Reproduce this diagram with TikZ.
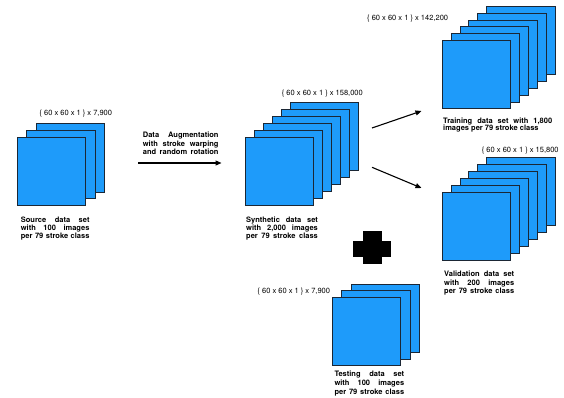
\documentclass[tikz,border=0pt]{standalone}
\usepackage{fontspec}
\setmainfont{TeX Gyre Heros}
\usetikzlibrary{arrows.meta}
\definecolor{sheetblue}{HTML}{1E9BFA}
\definecolor{rim}{HTML}{1B2735}

\tikzset{
  sheet/.style={draw=rim, fill=sheetblue, line width=0.9pt, minimum size=68.3pt,
    inner sep=0pt, outer sep=0pt},
  % multi-line captions are placed by the baseline of their last line
  caption/.style={inner sep=0pt, anchor=base west, align=left,
    font=\fontsize{7.5}{7.9}\selectfont\bfseries},
  dimlabel/.style={inner sep=0pt, anchor=base west, font=\fontsize{7.5}{8}\selectfont},
  flow/.style={line width=1.1pt, -{Triangle[length=6pt,width=5pt]}},
}

% a stack of image sheets: name, front centre x, y, count, step right, step up
\newcommand\sheetstack[6]{%
  \foreach \k in {#4,...,1}{%
    \node[sheet] (#1-\k) at ({#2+(\k-1)*#5},{#3-(\k-1)*#6}) {};
  }%
}
\newcommand\jline[2]{\makebox[#1][s]{#2}}

\begin{document}
\begin{tikzpicture}[x=1pt,y=-1pt]
\useasboundingbox (0,0) rectangle (564,398);

% source set
\sheetstack{src}{51.4}{171.4}{3}{9.5}{6.7}
\node[dimlabel] (src-lab) at (39.3,116) {\{ 60 x 60 x 1 \} x 7,900};
\node[caption] (src-txt) at (20.7,238)
  {\jline{68.6pt}{Source data set}\\\jline{68.6pt}{with 100 images}\\\jline{68.6pt}{per 79 stroke class}};

% augmentation step
\node[caption, font=\fontsize{7.5}{8.6}\selectfont\bfseries] (aug-txt) at (142.7,155)
  {\jline{75.6pt}{Data Augmentation}\\\jline{75.6pt}{with stroke warping}\\\jline{75.6pt}{and random rotation}};
\coordinate (aug-s) at (138,163);
\coordinate (aug-e) at (221.5,163);
\draw[flow] (aug-s) -- (aug-e);

% synthetic set
\sheetstack{syn}{279.6}{171.4}{6}{8.9}{7}
\node[dimlabel] (syn-lab) at (281.7,95.4) {\{ 60 x 60 x 1 \} x 158,000};
\node[caption] (syn-txt) at (246,238)
  {\jline{71.7pt}{Synthetic data set}\\\jline{71.7pt}{with 2,000 images}\\\jline{71.7pt}{per 79 stroke class}};

% split into training and validation
\coordinate (tr-s) at (372,128);
\coordinate (tr-e) at (421.5,111);
\draw[flow] (tr-s) -- (tr-e);
\coordinate (va-s) at (372,167.3);
\coordinate (va-e) at (421.5,188);
\draw[flow] (va-s) -- (va-e);

% training set
\sheetstack{trn}{476.3}{74.7}{6}{8.9}{6.8}
\node[dimlabel] (trn-lab) at (367,21) {\{ 60 x 60 x 1 \} x 142,200};
\node[caption] (trn-txt) at (443,131)
  {\jline{109pt}{Training data set with 1,800}\\images per 79 stroke class};

% validation set
\sheetstack{val}{476.3}{226.3}{6}{8.9}{7}
\node[dimlabel] (val-lab) at (481.7,152.7) {\{ 60 x 60 x 1 \} x 15,800};
\node[caption, font=\fontsize{7.5}{8.5}\selectfont\bfseries] (val-txt) at (444,293.5)
  {\jline{70pt}{Validation data set}\\\jline{70pt}{with 200 images}\\\jline{70pt}{per 79 stroke class}};

% plus sign
\fill (353.3,240.7) rectangle (390.7,257.3);
\fill (363.3,231.3) rectangle (381.7,264);

% testing set
\sheetstack{tst}{366.3}{331.3}{3}{9.7}{6.3}
\node[dimlabel] (tst-lab) at (257.3,293.7) {\{ 60 x 60 x 1 \} x 7,900};
\node[caption, font=\fontsize{7.5}{8.6}\selectfont\bfseries] (tst-txt) at (334.3,394)
  {\jline{69.7pt}{Testing data set}\\\jline{69.7pt}{with 100 images}\\\jline{69.7pt}{per 79 stroke class}};
\end{tikzpicture}
\end{document}
